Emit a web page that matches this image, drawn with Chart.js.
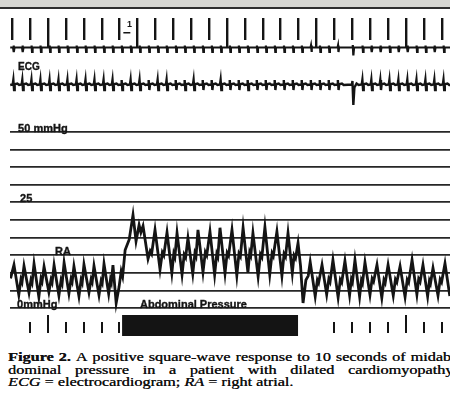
<!DOCTYPE html>
<html>
<head>
<meta charset="utf-8">
<script src="https://cdn.jsdelivr.net/npm/chart.js@4.4.0/dist/chart.umd.min.js"></script>
<style>
html, body { margin: 0; padding: 0; background: #fff; width: 450px; height: 409px; overflow: hidden; position: relative; }
#trace { position: absolute; left: 0; top: 0; }
#band { position: absolute; left: 0; top: 0; width: 450px; height: 7px; background: #d6d6d2; border-bottom: 2px solid #2e2e2e; }
#caption { position: absolute; left: 8px; top: 351px; transform: scaleX(1.41); transform-origin: 0 0;
  font: 11.5px "Liberation Serif", "Times New Roman", serif; color: #111; text-shadow: 0.25px 0 0 #111; }
.ln { display: flex; justify-content: space-between; width: 318px; height: 12.5px; line-height: 12.5px; white-space: nowrap; }
.last { height: 12.5px; line-height: 12.5px; white-space: nowrap; }
</style>
</head>
<body>
<canvas id="trace" width="450" height="345"></canvas>
<div id="band"></div>
<div id="caption">
  <div class="ln"><b>Figure</b><b>2.</b><span>A</span><span>positive</span><span>square-wave</span><span>response</span><span>to</span><span>10</span><span>seconds</span><span>of</span><span>midab-</span></div>
  <div class="ln"><span>dominal</span><span>pressure</span><span>in</span><span>a</span><span>patient</span><span>with</span><span>dilated</span><span>cardiomyopathy.</span></div>
  <div class="last"><i>ECG</i> = electrocardiogram; <i>RA</i> = right atrial.</div>
</div>
<script>
// time marks, seconds
var secondMarks = [0,1,2,3,4,5,6,7,8,9,10,11,12,13,14,15,16,17,18,19,20,21,22,23,24];
var majorMarks = [2,7,12,17,22];
var lowerMarks = [1,2,3,4,5,6,18,19,20,21,22,23,24];
var strainStart = 6.15, strainEnd = 15.98; // abdominal pressure, s

// pressure grid, mmHg
var pressureLines = [0,5,10,15,20,25,30,35,40,45,50];

// ECG beats (s)
var ecgBeats = [0.10,0.60,1.11,1.61,2.12,2.62,3.12,3.63,4.13,4.63,5.14,5.64,6.15,6.65,7.15,7.66,8.16,8.66,
  9.17,9.67,10.17,10.68,11.18,11.68,12.19,12.69,13.19,13.70,14.20,14.70,15.21,15.71,16.21,16.72,17.22,17.72,
  18.23,19.05,19.60,20.10,20.60,21.11,21.61,22.11,22.62,23.12,23.62,24.13];
var ectopicBeat = 19.05;
var ecg1Complex = [[-0.04,0],[-0.015,0.4],[0.01,-0.9],[0.04,0]];
var ecg1Ectopic = [[-0.04,0],[-0.01,0.5],[0.02,-1.6],[0.06,0]];
var ecg2Complex = [[-0.06,0.1],[-0.025,1.0],[0.015,-1.0],[0.05,0.15],[0.2,0.3],[0.3,0]];
var ecg2Ectopic = [[-0.06,0.1],[-0.03,0.8],[0.02,-4.0],[0.08,-0.5],[0.2,0.3],[0.32,0]];

// RA pressure [s, mmHg]
var raRest = [[-0.08,8.5],[0.11,12.3],[0.38,3.8],[0.50,8.2],[0.56,7.4],[0.67,12.0],[0.95,4.4],[1.06,8.0],[1.12,7.2],
  [1.23,12.6],[1.50,3.2],[1.62,8.4],[1.68,7.6],[1.79,11.8],[2.06,4.6],[2.18,8.1],[2.24,7.3],[2.35,12.2],[2.62,3.6],
  [2.74,7.9],[2.80,7.0],[2.91,12.9],[3.18,4.2],[3.30,8.3],[3.36,7.5],[3.46,11.9],[3.74,3.4],[3.86,8.0],[3.92,7.2],
  [4.02,12.4],[4.30,4.5],[4.42,8.2],[4.48,7.4],[4.58,12.0],[4.86,3.7],[4.98,7.8],[5.04,7.1],[5.14,12.6],[5.40,4.1],
  [5.50,8.1],[5.55,7.3],[5.64,12.2],[5.82,1.5]];
var raStrain = [[5.98,6.0],[6.10,10.5],[6.18,9.0],[6.32,16.5],[6.55,19.5],[6.76,26.4],[6.93,19.0],[7.10,23.6],
  [7.20,21.5],[7.32,23.3],[7.60,14.0],[7.72,16.2],[7.80,15.4],[7.99,22.2],[8.27,11.0],[8.40,15.8],[8.48,15.0],
  [8.66,21.5],[8.93,10.0],[9.04,15.5],[9.10,14.6],[9.22,21.3],[9.50,9.6],[9.62,15.2],[9.70,14.4],[9.83,19.9],
  [10.10,9.8],[10.22,15.6],[10.28,14.8],[10.39,22.2],[10.67,10.2],[10.80,15.9],[10.88,15.0],[11.06,21.7],
  [11.32,9.5],[11.44,15.4],[11.50,14.6],[11.62,22.8],[11.90,9.9],[12.02,15.7],[12.10,14.9],[12.29,22.2],
  [12.56,9.3],[12.68,15.5],[12.76,14.7],[12.91,22.8],[13.18,10.1],[13.28,15.8],[13.34,15.0],[13.46,21.3],
  [13.75,9.0],[13.88,15.3],[13.96,14.5],[14.13,23.0],[14.40,9.6],[14.53,15.6],[14.60,14.8],[14.80,21.7],
  [15.08,9.2],[15.20,15.4],[15.28,14.6],[15.42,21.3],[15.66,10.0],[15.76,15.0],[15.84,14.2],[15.98,18.5]];
var raRelease = [[16.12,12.0],[16.26,1.5],[16.42,8.0],[16.55,9.2],[16.66,13.1],[16.94,3.4],[17.06,8.0],[17.13,7.2],
  [17.32,12.3],[17.58,3.9],[17.70,8.3],[17.77,7.5],[17.93,13.7],[18.22,3.1],[18.34,8.1],[18.42,7.3],[18.60,13.4],
  [18.86,3.7],[18.96,8.2],[19.02,7.4],[19.16,13.7],[19.42,3.3],[19.52,7.9],[19.58,7.1],[19.72,13.0],[20.00,3.8],
  [20.12,8.4],[20.20,7.6],[20.39,12.3],[20.66,3.0],[20.78,8.0],[20.85,7.2],[21.01,12.3],[21.30,3.6],[21.42,8.2],
  [21.50,7.4],[21.68,11.9],[21.96,3.2],[22.08,8.1],[22.16,7.3],[22.35,13.7],[22.62,3.9],[22.72,8.3],[22.80,7.5],
  [22.96,12.3],[23.22,3.4],[23.32,7.8],[23.38,7.0],[23.52,11.4],[23.80,3.6],[23.92,8.2],[24.00,7.4],[24.19,12.7],
  [24.46,3.5]];

var ink = '#141414';

function ecgTrace(complex, ectopic) {
  var pts = [{x: -0.1, y: 0}];
  ecgBeats.forEach(function(t) {
    var shape = (t === ectopicBeat) ? ectopic : complex;
    shape.forEach(function(p) { pts.push({x: t + p[0], y: p[1]}); });
  });
  pts.push({x: 24.5, y: 0});
  return pts;
}

function toPoints(list) {
  return list.map(function(p) { return {x: p[0], y: p[1]}; });
}

// labels: text, time, value, scale, font
var panelLabels = [
  ['ECG', 0.34, 3, 'yE2', 'bold 10px "Liberation Sans", Arial, sans-serif'],
  ['50 mmHg', 0.34, 50, 'yP', 'bold 11px "Liberation Sans", Arial, sans-serif'],
  ['25', 0.45, 30, 'yP', 'bold 11px "Liberation Sans", Arial, sans-serif'],
  ['RA', 2.40, 15, 'yP', 'bold 11px "Liberation Sans", Arial, sans-serif'],
  ['0mmHg', 0.28, 0, 'yP', 'bold 11px "Liberation Sans", Arial, sans-serif'],
  ['Abdominal Pressure', 7.15, 0, 'yP', 'bold 11px "Liberation Sans", Arial, sans-serif']
];

var strips = {
  id: 'strips',
  afterDatasetsDraw: function(chart) {
    var c = chart.ctx, x = chart.scales.x;
    c.save();
    c.fillStyle = ink;
    c.strokeStyle = ink;
    // timing marks along the top
    secondMarks.forEach(function(s) {
      var px = Math.round(x.getPixelForValue(s));
      var bottom = majorMarks.indexOf(s) >= 0 ? 48 : 40;
      c.fillRect(px - 1, 18, 2.4, bottom - 18);
    });
    // one second calibration
    c.font = 'bold 9px "Liberation Sans", Arial, sans-serif';
    c.fillText('1', x.getPixelForValue(6.42), 27);
    c.fillRect(x.getPixelForValue(6.22), 32, 7, 1.5);
    // event marks along the bottom
    lowerMarks.forEach(function(s) {
      var px = Math.round(x.getPixelForValue(s));
      var top = majorMarks.indexOf(s) >= 0 ? 315 : 322;
      c.fillRect(px - 1, top, 2, 333 - top);
    });
    var x0 = x.getPixelForValue(strainStart), x1 = x.getPixelForValue(strainEnd);
    c.fillRect(x0, 315, x1 - x0, 21);
    // labels
    c.lineWidth = 0.35;
    panelLabels.forEach(function(l) {
      c.font = l[4];
      var lx = x.getPixelForValue(l[1]), ly = chart.scales[l[3]].getPixelForValue(l[2]);
      c.fillText(l[0], lx, ly);
      c.strokeText(l[0], lx, ly);
    });
    c.restore();
  }
};

var ctx = document.getElementById('trace').getContext('2d');
new Chart(ctx, {
  type: 'line',
  data: {
    datasets: [
      { label: 'ECG 1', data: ecgTrace(ecg1Complex, ecg1Ectopic), yAxisID: 'yE1',
        borderColor: ink, borderWidth: 2.2, pointRadius: 0, tension: 0 },
      { label: 'ECG 2', data: ecgTrace(ecg2Complex, ecg2Ectopic), yAxisID: 'yE2',
        borderColor: ink, borderWidth: 2.4, pointRadius: 0, tension: 0 },
      { label: 'RA', data: toPoints(raRest.concat(raStrain, raRelease)), yAxisID: 'yP',
        borderColor: ink, borderWidth: 2.8, pointRadius: 0, tension: 0 }
    ]
  },
  options: {
    responsive: false,
    animation: false,
    devicePixelRatio: 1,
    layout: { padding: { left: 10, right: 0, top: 0, bottom: 0 } },
    plugins: { legend: { display: false }, tooltip: { enabled: false } },
    scales: {
      x: { type: 'linear', min: -0.112, max: 24.47, display: false },
      yP: {
        type: 'linear', position: 'left', min: -10.39, max: 87.29,
        border: { display: false },
        ticks: { display: false },
        grid: { drawTicks: false, color: '#262626', lineWidth: 1.7 },
        afterBuildTicks: function(scale) {
          scale.ticks = pressureLines.map(function(v) { return {value: v}; });
        }
      },
      yE1: { type: 'linear', min: -59.5, max: 9.5, display: false },
      yE2: { type: 'linear', min: -52, max: 17, display: false }
    }
  },
  plugins: [strips]
});
</script>
</body>
</html>
